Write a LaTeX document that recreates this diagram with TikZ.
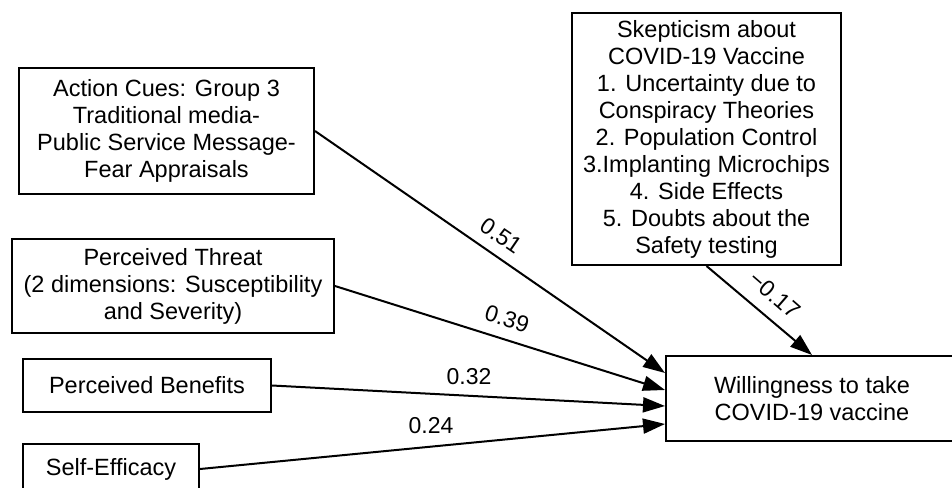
\documentclass[tikz,border=0pt]{standalone}
\usepackage{fontspec}
\setmainfont{Liberation Sans}
\usetikzlibrary{arrows.meta}
\tikzset{
  box/.style={draw, line width=2pt, inner sep=0pt, align=center,
    font=\fontsize{23.5}{27}\selectfont},
  link/.style={line width=2pt, -{Triangle[length=22pt,width=15pt]}},
  lbl/.style={inner sep=0pt, font=\fontsize{23}{27}\selectfont}
}
\begin{document}
\begin{tikzpicture}[x=1pt,y=-1pt]
\useasboundingbox (0,0) rectangle (952,487);
\clip (0,0) rectangle (952,487);
\node[box, minimum width=295pt, minimum height=126pt] (act) at (166.5,131)
  {Action Cues: Group 3\\Traditional media-\\Public Service Message-\\Fear Appraisals};
\node[box, minimum width=322pt, minimum height=94pt] (thr) at (173,286)
  {Perceived Threat\\(2 dimensions: Susceptibility\\and Severity)};
\node[box, minimum width=248pt, minimum height=53pt] (ben) at (147,385.5)
  {Perceived Benefits};
\node[box, minimum width=176pt, minimum height=50pt] (slf) at (111,469)
  {Self-Efficacy};
\node[box, minimum width=269pt, minimum height=252pt] (skp) at (706.5,139)
  {Skepticism about\\COVID-19 Vaccine\\1. Uncertainty due to\\Conspiracy Theories\\2. Population Control\\3.Implanting Microchips\\4. Side Effects\\5. Doubts about the\\Safety testing};
\node[box, minimum width=292pt, minimum height=85pt] (wil) at (812,398.5)
  {Willingness to take\\COVID-19 vaccine};
\draw[link] (act.east) -- ([yshift=25.5pt]wil.west);
\draw[link] (thr.east) -- ([yshift=8.5pt]wil.west);
\draw[link] (ben.east) -- ([yshift=-7.5pt]wil.west);
\draw[link] (slf.east) -- ([yshift=-25.5pt]wil.west);
\draw[link] (skp.south) -- (wil.north);
\node[lbl, rotate=-34.3] (l1) at (501,236) {0.51};
\node[lbl, rotate=-17.5] (l2) at (507,319) {0.39};
\node[lbl] (l3) at (469,377) {0.32};
\node[lbl] (l4) at (431,426) {0.24};
\node[lbl, rotate=-41] (l5) at (775,295) {−0.17};
\end{tikzpicture}
\end{document}
